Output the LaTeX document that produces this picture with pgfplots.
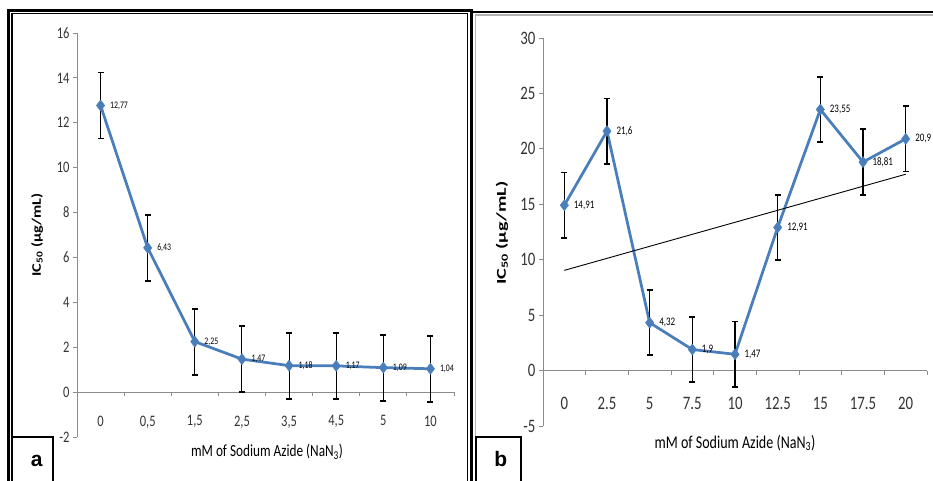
\documentclass[border=0pt]{standalone}
\usepackage{fontspec}
\setmainfont{Carlito}[FakeStretch=0.78]
\newfontfamily\ylabA{Carlito}[FakeStretch=1.25]
\newfontfamily\ylabB{Carlito}[FakeStretch=1.5]
\newfontfamily\panelfont{Liberation Sans}
\usepackage{pgfplots}
\pgfplotsset{compat=1.18}
\definecolor{xlblue}{HTML}{4A7EBB}
\definecolor{axgray}{HTML}{8C8C8C}

\pgfplotstableread{
x y e
0 12.77 1.47
1 6.43 1.47
2 2.25 1.47
3 1.47 1.47
4 1.18 1.47
5 1.17 1.47
6 1.09 1.47
7 1.04 1.47
}\dataA

\pgfplotstableread{
x y e
0 14.91 2.95
1 21.6 2.95
2 4.32 2.95
3 1.9 2.95
4 1.47 2.95
5 12.91 2.95
6 23.55 2.95
7 18.81 2.95
8 20.9 2.95
}\dataB

\pgfplotsset{
  panel/.style={
    scale only axis, clip=false,
    axis y line=left, axis x line=middle,
    axis line style={axgray, line width=0.8pt, -},
    every inner x axis line/.append style={-},
    every outer y axis line/.append style={-},
    hide obscured x ticks=false, hide obscured y ticks=false,
    tick align=outside, major tick length=4pt,
    tick style={axgray, line width=0.8pt},
    xticklabels={},
    /pgf/number format/assume math mode=true,
  },
  series/.style={
    xlblue, line width=2.75pt, mark=diamond*, mark size=5.5pt,
    mark options={fill=xlblue, line width=0.5pt},
    point meta=y,
    nodes near coords={\pgfmathprintnumber[fixed,precision=2,use comma,assume math mode=true]{\pgfplotspointmeta}},
    nodes near coords style={anchor=west, xshift=6pt, text=black},
    /pgfplots/error bars/y dir=both,
    /pgfplots/error bars/y explicit,
    /pgfplots/error bars/error mark=|,
    /pgfplots/error bars/error bar style={black, line width=1.1pt},
    /pgfplots/error bars/error mark options={black, line width=1.8pt, mark size=3pt},
  },
}

\begin{document}
\begin{tikzpicture}[x=1pt,y=1pt]
\useasboundingbox (0,0) rectangle (933,480);
\clip (0,0) rectangle (933,480);

% frames
\draw[line width=3pt] (8.7,-10) -- (8.7,469.3) -- (471.7,469.3) -- (471.7,-10);
\draw[line width=1.1pt] (12,-10) -- (12,466.5) -- (467.3,466.5) -- (467.3,-10);
\draw[line width=2.5pt] (471.7,468) -- (940,468);
\draw[line width=1.5pt, gray!60] (475.5,-10) -- (475.5,465.2) -- (940,465.2);
\draw[line width=1.5pt] (12,-10) rectangle (53,43);
\draw[line width=1.5pt] (476,-10) rectangle (521,43);
\node[anchor=base, font=\panelfont\bfseries\fontsize{21}{21}\selectfont] at (36.7,14) {a};
\node[anchor=base, font=\panelfont\bfseries\fontsize{21}{21}\selectfont] at (500.8,14) {b};

% panel a
\begin{axis}[panel,
  at={(77pt,43pt)}, anchor=south west, width=377pt, height=404pt,
  xmin=-0.5, xmax=7.5, ymin=-2, ymax=16,
  ytick={-2,0,...,16},
  xtick={-0.5,0.5,...,7.5},
  extra x ticks={0,1,...,7},
  extra x tick labels={0,{0,5},{1,5},{2,5},{3,5},{4,5},5,10},
  extra x tick style={tick style={draw=none}, xticklabel style={yshift=-16pt}},
  tick label style={font=\fontsize{16}{16}\selectfont, text=black!80},
  xlabel={mM of Sodium Azide (NaN\textsubscript{3})},
  xlabel style={at={(axis description cs:0.504,-0.037)}, anchor=center, font=\fontsize{17}{17}\selectfont},
  ylabel={IC\textsubscript{50} (µg/mL)},
  ylabel style={at={(axis description cs:-0.106,0.5)}, anchor=center, font=\ylabA\bfseries\fontsize{13}{13}\selectfont},
]
\addplot[series, nodes near coords style={font=\fontsize{10}{10}\selectfont}]
  table[x=x, y=y, y error=e] {\dataA};
\end{axis}

% panel b
\begin{axis}[panel,
  at={(543pt,54pt)}, anchor=south west, width=384pt, height=388pt,
  xmin=-0.5, xmax=8.5, ymin=-5, ymax=30,
  ytick={-5,0,...,30},
  xtick={-0.5,0.5,...,8.5},
  extra x ticks={0,1,...,8},
  extra x tick labels={0,2.5,5,7.5,10,12.5,15,17.5,20},
  extra x tick style={tick style={draw=none}, xticklabel style={yshift=-19pt}},
  tick label style={font=\fontsize{19}{19}\selectfont, text=black!80},
  xlabel={mM of Sodium Azide (NaN\textsubscript{3})},
  xlabel style={at={(axis description cs:0.5,-0.044)}, anchor=center, font=\fontsize{18}{18}\selectfont},
  ylabel={IC\textsubscript{50} (µg/mL)},
  ylabel style={at={(axis description cs:-0.107,0.497)}, anchor=center, font=\ylabB\bfseries\fontsize{13.5}{13.5}\selectfont},
]
\addplot[series, nodes near coords style={font=\fontsize{11.5}{11.5}\selectfont}]
  table[x=x, y=y, y error=e] {\dataB};
\addplot[black, line width=0.9pt, mark=none] coordinates {(0,9.04) (8,17.71)};
\end{axis}
\end{tikzpicture}
\end{document}
